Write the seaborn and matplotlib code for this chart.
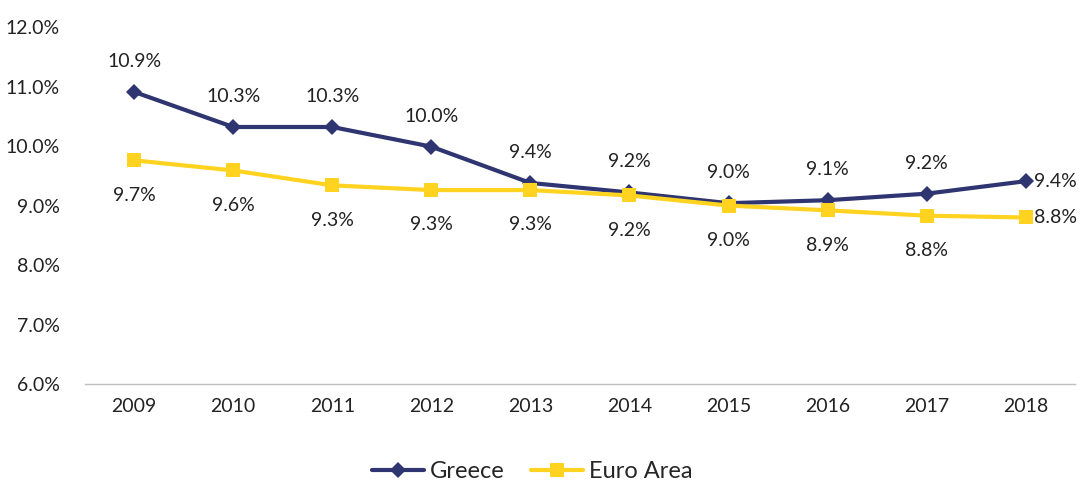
import matplotlib
matplotlib.use("Agg")
import matplotlib.pyplot as plt
import seaborn as sns
import pandas as pd
from matplotlib.ticker import FuncFormatter

years = ["2009", "2010", "2011", "2012", "2013", "2014", "2015", "2016", "2017", "2018"]
greece = [10.91, 10.32, 10.32, 9.99, 9.38, 9.22, 9.04, 9.09, 9.20, 9.41]
euro_area = [9.76, 9.59, 9.34, 9.26, 9.26, 9.17, 9.00, 8.92, 8.83, 8.80]
greece_labels = ["10.9%", "10.3%", "10.3%", "10.0%", "9.4%", "9.2%", "9.0%", "9.1%", "9.2%", "9.4%"]
euro_labels = ["9.7%", "9.6%", "9.3%", "9.3%", "9.3%", "9.2%", "9.0%", "8.9%", "8.8%", "8.8%"]
y_ticks = [6.0, 7.0, 8.0, 9.0, 10.0, 11.0, 12.0]

sns.set_theme(style="white")
plt.rcParams['font.family'] = ['Lato', 'DejaVu Sans']

navy = "#2E3570"
yellow = "#FFD320"
txt = "#222222"
fs = 14

df = pd.DataFrame({
    "Year": years * 2,
    "Value": greece + euro_area,
    "Series": ["Greece"] * len(years) + ["Euro Area"] * len(years),
})

fig = plt.figure(figsize=(10.84, 4.82), dpi=100)
ax = fig.add_axes([0.078, 0.203, 0.914, 0.741])

sns.lineplot(data=df, x="Year", y="Value", hue="Series", style="Series",
             palette={"Greece": navy, "Euro Area": yellow},
             markers={"Greece": "D", "Euro Area": "s"},
             dashes=False, markersize=8, linewidth=3, ax=ax,
             markeredgewidth=0, sort=False)
for line in ax.get_lines():
    if line.get_marker() == "s":
        line.set_markersize(10)

ax.set_xlim(-0.5, 9.5)
ax.set_ylim(6.0, 12.0)
ax.set_yticks(y_ticks)
ax.yaxis.set_major_formatter(FuncFormatter(lambda v, p: f"{v:.1f}%"))
ax.set_xlabel("")
ax.set_ylabel("")
for s in ["top", "right", "left"]:
    ax.spines[s].set_visible(False)
ax.spines["bottom"].set_color("#BFBFBF")
ax.spines["bottom"].set_linewidth(1)
ax.tick_params(axis="both", length=0, labelsize=fs, colors=txt)
ax.tick_params(axis="x", pad=10)
ax.tick_params(axis="y", pad=18)

n = len(years)
for i in range(n):
    if i == n - 1:
        ax.annotate(greece_labels[i], (i, greece[i]), xytext=(6, 0), textcoords="offset points",
                    ha="left", va="center", fontsize=fs, color=txt)
        ax.annotate(euro_labels[i], (i, euro_area[i]), xytext=(6, 0), textcoords="offset points",
                    ha="left", va="center", fontsize=fs, color=txt)
    else:
        ax.annotate(greece_labels[i], (i, greece[i]), xytext=(0, 22), textcoords="offset points",
                    ha="center", va="center", fontsize=fs, color=txt)
        ax.annotate(euro_labels[i], (i, euro_area[i]), xytext=(0, -25), textcoords="offset points",
                    ha="center", va="center", fontsize=fs, color=txt)

handles, labels = ax.get_legend_handles_labels()
for h in handles:
    if h.get_marker() == "s":
        h.set_markersize(10)
ax.legend(handles=handles, labels=labels, loc="center", bbox_to_anchor=(0.452, -0.245),
          ncol=2, frameon=False, fontsize=17, handlelength=2.2, columnspacing=1.1,
          handletextpad=0.25)

fig.savefig("out.png", dpi=100)
